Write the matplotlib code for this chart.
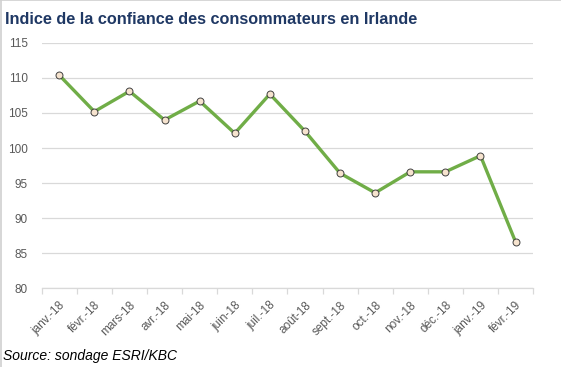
import matplotlib.pyplot as plt
import numpy as np

months = ["janv.-18", "févr.-18", "mars-18", "avr.-18", "mai-18", "juin-18", "juil.-18",
          "août-18", "sept.-18", "oct.-18", "nov.-18", "déc.-18", "janv.-19", "févr.-19"]
confidence = [110.4, 105.2, 108.1, 104.0, 106.7, 102.1, 107.7,
              102.4, 96.4, 93.6, 96.6, 96.6, 98.9, 86.6]
yticks = [80, 85, 90, 95, 100, 105, 110, 115]

plt.rcParams['font.family'] = ['Liberation Sans', 'DejaVu Sans']

fig = plt.figure(figsize=(5.61, 3.67), dpi=100)
ax = fig.add_axes([0.0743, 0.215, 0.876, 0.668])

x = np.arange(len(months))
ax.plot(x, confidence, color='#70AD47', lw=2.4, marker='o', markersize=5,
        markerfacecolor='#F6E3CE', markeredgecolor='#404040', markeredgewidth=0.7,
        zorder=3)

ax.set_xlim(-0.5, len(months) - 0.5)
ax.set_ylim(80, 115)
ax.set_yticks(yticks)
ax.set_yticklabels([str(v) for v in yticks], fontsize=8.5, color='#595959')
ax.grid(axis='y', color='#D9D9D9', lw=0.9)
ax.set_axisbelow(True)
ax.tick_params(axis='y', length=0, pad=10)

# category ticks on boundaries, labels at centers
ax.set_xticks(np.arange(len(months) + 1) - 0.5)
ax.set_xticklabels([])
ax.tick_params(axis='x', which='major', length=4, color='#D9D9D9', width=0.9)
ax.set_xticks(x, minor=True)
ax.set_xticklabels(months, minor=True, rotation=45, ha='right', va='top',
                   rotation_mode='anchor', fontsize=8.5, color='#595959')
ax.tick_params(axis='x', which='minor', length=0, pad=8)

for s in ['top', 'right', 'left']:
    ax.spines[s].set_visible(False)
ax.spines['bottom'].set_color('#D9D9D9')
ax.spines['bottom'].set_linewidth(0.9)

fig.text(0.009, 0.968, "Indice de la confiance des consommateurs en Irlande",
         fontsize=11.7, fontweight='bold', color='#1F3864', ha='left', va='top')
fig.text(0.005, 0.012, "Source: sondage ESRI/KBC", fontsize=10, style='italic',
         color='black', ha='left', va='bottom')

# chart border on left and top
fig.add_artist(plt.Line2D([0.001, 0.001], [0, 1], color='#D0D0D0', lw=1.2))
fig.add_artist(plt.Line2D([0, 1], [0.999, 0.999], color='#D0D0D0', lw=1.2))

fig.savefig('out.png', dpi=100)
